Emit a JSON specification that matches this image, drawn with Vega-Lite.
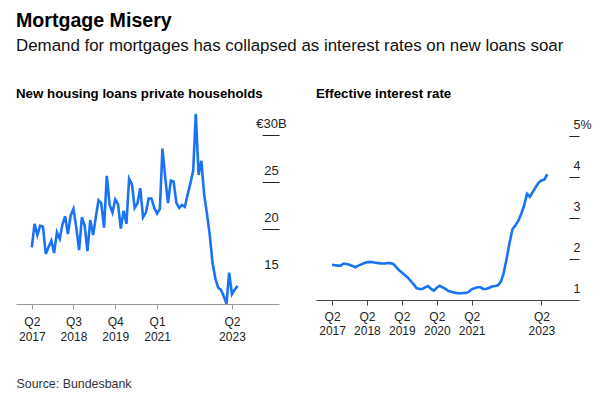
{
  "$schema": "https://vega.github.io/schema/vega-lite/v6.json",
  "padding": {"left": 16, "top": 11, "right": 10, "bottom": 10},
  "background": "white",
  "title": {
    "text": "Mortgage Misery",
    "subtitle": "Demand for mortgages has collapsed as interest rates on new loans soar",
    "anchor": "start",
    "font": "Liberation Sans",
    "fontSize": 19.6,
    "fontWeight": "bold",
    "color": "#000000",
    "subtitleFont": "Liberation Sans",
    "subtitleFontSize": 16.9,
    "subtitleColor": "#111111",
    "subtitlePadding": 6,
    "offset": 32
  },
  "config": {
    "view": {"stroke": null},
    "font": "Liberation Sans",
    "title": {"font": "Liberation Sans"}
  },
  "spacing": 37,
  "bounds": "flush",
  "datasets": {
    "loans": [
      {"date": "2017/04/01", "value": 18.1},
      {"date": "2017/05/01", "value": 20.6},
      {"date": "2017/06/01", "value": 19.4},
      {"date": "2017/07/01", "value": 20.4},
      {"date": "2017/08/01", "value": 20.3},
      {"date": "2017/09/01", "value": 17.4},
      {"date": "2017/10/01", "value": 18.1},
      {"date": "2017/11/01", "value": 18.8},
      {"date": "2017/12/01", "value": 17.5},
      {"date": "2018/01/01", "value": 19.7},
      {"date": "2018/02/01", "value": 19.0},
      {"date": "2018/03/01", "value": 20.5},
      {"date": "2018/04/01", "value": 21.4},
      {"date": "2018/05/01", "value": 19.5},
      {"date": "2018/06/01", "value": 21.5},
      {"date": "2018/07/01", "value": 22.2},
      {"date": "2018/08/01", "value": 20.2},
      {"date": "2018/09/01", "value": 17.8},
      {"date": "2018/10/01", "value": 21.3},
      {"date": "2018/11/01", "value": 20.4},
      {"date": "2018/12/01", "value": 17.7},
      {"date": "2019/01/01", "value": 21.0},
      {"date": "2019/02/01", "value": 19.4},
      {"date": "2019/03/01", "value": 21.2},
      {"date": "2019/04/01", "value": 23.1},
      {"date": "2019/05/01", "value": 22.8},
      {"date": "2019/06/01", "value": 20.2},
      {"date": "2019/07/01", "value": 25.7},
      {"date": "2019/08/01", "value": 22.6},
      {"date": "2019/09/01", "value": 21.8},
      {"date": "2019/10/01", "value": 23.2},
      {"date": "2019/11/01", "value": 22.7},
      {"date": "2019/12/01", "value": 20.1},
      {"date": "2020/01/01", "value": 22.0},
      {"date": "2020/02/01", "value": 20.6},
      {"date": "2020/03/01", "value": 25.4},
      {"date": "2020/04/01", "value": 24.8},
      {"date": "2020/05/01", "value": 22.3},
      {"date": "2020/06/01", "value": 22.8},
      {"date": "2020/07/01", "value": 24.4},
      {"date": "2020/08/01", "value": 21.3},
      {"date": "2020/09/01", "value": 21.8},
      {"date": "2020/10/01", "value": 23.3},
      {"date": "2020/11/01", "value": 23.3},
      {"date": "2020/12/01", "value": 22.3},
      {"date": "2021/01/01", "value": 21.7},
      {"date": "2021/02/01", "value": 22.2},
      {"date": "2021/03/01", "value": 28.6},
      {"date": "2021/04/01", "value": 25.5},
      {"date": "2021/05/01", "value": 22.8},
      {"date": "2021/06/01", "value": 25.2},
      {"date": "2021/07/01", "value": 25.1},
      {"date": "2021/08/01", "value": 22.8},
      {"date": "2021/09/01", "value": 22.3},
      {"date": "2021/10/01", "value": 22.6},
      {"date": "2021/11/01", "value": 22.4},
      {"date": "2021/12/01", "value": 23.7},
      {"date": "2022/01/01", "value": 24.9},
      {"date": "2022/02/01", "value": 26.3},
      {"date": "2022/03/01", "value": 32.3},
      {"date": "2022/04/01", "value": 25.8},
      {"date": "2022/05/01", "value": 27.3},
      {"date": "2022/06/01", "value": 23.7},
      {"date": "2022/07/01", "value": 21.7},
      {"date": "2022/08/01", "value": 19.4},
      {"date": "2022/09/01", "value": 16.4},
      {"date": "2022/10/01", "value": 14.8},
      {"date": "2022/11/01", "value": 13.8},
      {"date": "2022/12/01", "value": 13.6},
      {"date": "2023/01/01", "value": 12.9},
      {"date": "2023/02/01", "value": 12.1},
      {"date": "2023/03/01", "value": 15.4},
      {"date": "2023/04/01", "value": 13.1},
      {"date": "2023/05/01", "value": 13.6},
      {"date": "2023/06/01", "value": 14.0}
    ],
    "rate": [
      {"date": "2017/04/01", "value": 1.86},
      {"date": "2017/05/01", "value": 1.85},
      {"date": "2017/06/01", "value": 1.84},
      {"date": "2017/07/01", "value": 1.84},
      {"date": "2017/08/01", "value": 1.89},
      {"date": "2017/09/01", "value": 1.88},
      {"date": "2017/10/01", "value": 1.86},
      {"date": "2017/11/01", "value": 1.83},
      {"date": "2017/12/01", "value": 1.80},
      {"date": "2018/01/01", "value": 1.84},
      {"date": "2018/02/01", "value": 1.87},
      {"date": "2018/03/01", "value": 1.90},
      {"date": "2018/04/01", "value": 1.92},
      {"date": "2018/05/01", "value": 1.93},
      {"date": "2018/06/01", "value": 1.92},
      {"date": "2018/07/01", "value": 1.91},
      {"date": "2018/08/01", "value": 1.90},
      {"date": "2018/09/01", "value": 1.89},
      {"date": "2018/10/01", "value": 1.89},
      {"date": "2018/11/01", "value": 1.90},
      {"date": "2018/12/01", "value": 1.90},
      {"date": "2019/01/01", "value": 1.88},
      {"date": "2019/02/01", "value": 1.80},
      {"date": "2019/03/01", "value": 1.73},
      {"date": "2019/04/01", "value": 1.67},
      {"date": "2019/05/01", "value": 1.61},
      {"date": "2019/06/01", "value": 1.55},
      {"date": "2019/07/01", "value": 1.47},
      {"date": "2019/08/01", "value": 1.39},
      {"date": "2019/09/01", "value": 1.29},
      {"date": "2019/10/01", "value": 1.27},
      {"date": "2019/11/01", "value": 1.27},
      {"date": "2019/12/01", "value": 1.31},
      {"date": "2020/01/01", "value": 1.34},
      {"date": "2020/02/01", "value": 1.27},
      {"date": "2020/03/01", "value": 1.23},
      {"date": "2020/04/01", "value": 1.30},
      {"date": "2020/05/01", "value": 1.35},
      {"date": "2020/06/01", "value": 1.31},
      {"date": "2020/07/01", "value": 1.27},
      {"date": "2020/08/01", "value": 1.22},
      {"date": "2020/09/01", "value": 1.20},
      {"date": "2020/10/01", "value": 1.18},
      {"date": "2020/11/01", "value": 1.17},
      {"date": "2020/12/01", "value": 1.16},
      {"date": "2021/01/01", "value": 1.17},
      {"date": "2021/02/01", "value": 1.17},
      {"date": "2021/03/01", "value": 1.20},
      {"date": "2021/04/01", "value": 1.26},
      {"date": "2021/05/01", "value": 1.29},
      {"date": "2021/06/01", "value": 1.31},
      {"date": "2021/07/01", "value": 1.31},
      {"date": "2021/08/01", "value": 1.27},
      {"date": "2021/09/01", "value": 1.27},
      {"date": "2021/10/01", "value": 1.30},
      {"date": "2021/11/01", "value": 1.33},
      {"date": "2021/12/01", "value": 1.34},
      {"date": "2022/01/01", "value": 1.36},
      {"date": "2022/02/01", "value": 1.45},
      {"date": "2022/03/01", "value": 1.65},
      {"date": "2022/04/01", "value": 2.00},
      {"date": "2022/05/01", "value": 2.38},
      {"date": "2022/06/01", "value": 2.72},
      {"date": "2022/07/01", "value": 2.82},
      {"date": "2022/08/01", "value": 2.93},
      {"date": "2022/09/01", "value": 3.10},
      {"date": "2022/10/01", "value": 3.30},
      {"date": "2022/11/01", "value": 3.59},
      {"date": "2022/12/01", "value": 3.52},
      {"date": "2023/01/01", "value": 3.64},
      {"date": "2023/02/01", "value": 3.76},
      {"date": "2023/03/01", "value": 3.86},
      {"date": "2023/04/01", "value": 3.92},
      {"date": "2023/05/01", "value": 3.94},
      {"date": "2023/06/01", "value": 4.07}
    ]
  },
  "hconcat": [
    {
      "width": 263,
      "height": 192,
      "title": {"text": "New housing loans private households", "anchor": "start", "fontSize": 13.3, "fontWeight": "bold", "color": "#000000", "offset": 12},
      "data": {"name": "loans"},
      "mark": {"type": "line", "color": "#1a73f5", "strokeWidth": 2.6, "clip": true},
      "encoding": {
        "x": {
          "field": "date",
          "type": "temporal",
          "scale": {"domain": [{"year": 2016, "month": 10, "date": 10}, {"year": 2024, "month": 8, "date": 28}]},
          "axis": {
            "values": [
              {"year": 2017, "month": 4, "date": 1},
              {"year": 2018, "month": 7, "date": 1},
              {"year": 2019, "month": 10, "date": 1},
              {"year": 2021, "month": 1, "date": 1},
              {"year": 2023, "month": 4, "date": 1}
            ],
            "labelExpr": "['Q' + quarter(datum.value), timeFormat(datum.value, '%Y')]",
            "grid": false,
            "domainColor": "#999999",
            "tickColor": "#999999",
            "tickSize": 5,
            "labelPadding": 7,
            "labelFontSize": 12,
            "labelColor": "#222222",
            "labelLineHeight": 15.5,
            "labelFlush": false,
            "labelOverlap": false,
            "title": "Source: Bundesbank",
            "titleAnchor": "start",
            "titleAlign": "left",
            "titleFontWeight": "normal",
            "titleFontSize": 12.4,
            "titleColor": "#333333",
            "titlePadding": 35
          }
        },
        "y": {
          "field": "value",
          "type": "quantitative",
          "scale": {"domain": [12.07, 32.5], "nice": false, "zero": false},
          "axis": {
            "orient": "right",
            "values": [15, 20, 25, 30],
            "domain": false,
            "grid": false,
            "tickSize": -17,
            "tickColor": "#222222",
            "tickOpacity": {"condition": {"test": "datum.value == 15", "value": 0}, "value": 1},
            "labelAlign": "center",
            "labelPadding": 9,
            "labelBaseline": "alphabetic",
            "labelOffset": -8,
            "labelExpr": "datum.value == 30 ? '€30B' : datum.label",
            "labelFontSize": 13,
            "labelColor": "#222222",
            "labelFlush": false,
            "labelOverlap": false,
            "title": null
          }
        }
      }
    },
    {
      "width": 263,
      "height": 188,
      "title": {"text": "Effective interest rate", "anchor": "start", "fontSize": 13.3, "fontWeight": "bold", "color": "#000000", "offset": 12},
      "data": {"name": "rate"},
      "mark": {"type": "line", "color": "#1a73f5", "strokeWidth": 2.6, "clip": true},
      "encoding": {
        "x": {
          "field": "date",
          "type": "temporal",
          "scale": {"domain": [{"year": 2016, "month": 10, "date": 15}, {"year": 2024, "month": 4, "date": 28}]},
          "axis": {
            "values": [
              {"year": 2017, "month": 4, "date": 1},
              {"year": 2018, "month": 4, "date": 1},
              {"year": 2019, "month": 4, "date": 1},
              {"year": 2020, "month": 4, "date": 1},
              {"year": 2021, "month": 4, "date": 1},
              {"year": 2023, "month": 4, "date": 1}
            ],
            "labelExpr": "['Q' + quarter(datum.value), timeFormat(datum.value, '%Y')]",
            "grid": false,
            "domainColor": "#444444",
            "tickColor": "#444444",
            "tickSize": 5,
            "labelPadding": 6,
            "labelFontSize": 12,
            "labelColor": "#222222",
            "labelLineHeight": 14,
            "labelFlush": false,
            "labelOverlap": false,
            "title": null
          }
        },
        "y": {
          "field": "value",
          "type": "quantitative",
          "scale": {"domain": [1.0, 5.59], "nice": false, "zero": false},
          "axis": {
            "orient": "right",
            "values": [1, 2, 3, 4, 5],
            "domain": false,
            "grid": false,
            "tickSize": -10,
            "tickColor": "#222222",
            "tickOpacity": {"condition": {"test": "datum.value == 1", "value": 0}, "value": 1},
            "labelAlign": "left",
            "labelPadding": 4,
            "labelBaseline": "alphabetic",
            "labelOffset": -8,
            "labelExpr": "datum.value == 5 ? '5%' : datum.label",
            "labelFontSize": 12.5,
            "labelColor": "#222222",
            "labelFlush": false,
            "labelOverlap": false,
            "title": null
          }
        }
      }
    }
  ]
}
